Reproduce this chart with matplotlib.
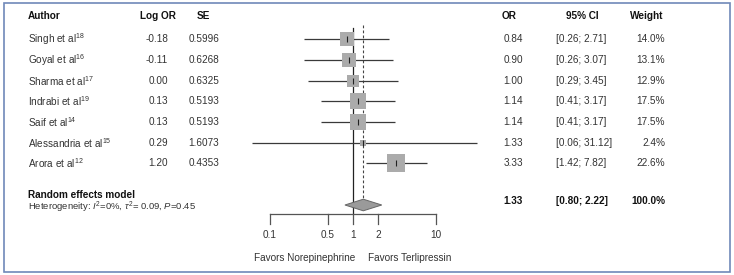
import numpy as np
import matplotlib
matplotlib.use("Agg")
import matplotlib.pyplot as plt
from matplotlib.transforms import blended_transform_factory
from matplotlib.patches import Rectangle, Polygon

plt.rcParams['font.family'] = ['Liberation Sans', 'DejaVu Sans']
plt.rcParams['mathtext.fontset'] = 'custom'
plt.rcParams['mathtext.rm'] = 'Liberation Sans'
plt.rcParams['mathtext.it'] = 'Liberation Sans:italic'
plt.rcParams['mathtext.bf'] = 'Liberation Sans:bold'

# ---------------- data ----------------
authors = ["Singh et al", "Goyal et al", "Sharma et al", "Indrabi et al",
           "Saif et al", "Alessandria et al", "Arora et al"]
refs = ["18", "16", "17", "19", "14", "15", "12"]
log_or = ["-0.18", "-0.11", "0.00", "0.13", "0.13", "0.29", "1.20"]
se = ["0.5996", "0.6268", "0.6325", "0.5193", "0.5193", "1.6073", "0.4353"]
odds = [0.84, 0.90, 1.00, 1.14, 1.14, 1.33, 3.33]
ci_lo = [0.26, 0.26, 0.29, 0.41, 0.41, 0.06, 1.42]
ci_hi = [2.71, 3.07, 3.45, 3.17, 3.17, 31.12, 7.82]
weights = [14.0, 13.1, 12.9, 17.5, 17.5, 2.4, 22.6]
pooled_or, pooled_lo, pooled_hi = 1.33, 0.80, 2.22
het_text = r"Heterogeneity: $\mathit{I}^{2}$=0%, $\tau^{2}$= 0.09, $\mathit{P}$=0.45"
ticks = [0.1, 0.5, 1, 2, 10]
tick_labels = ["0.1", "0.5", "1", "2", "10"]

# ---------------- layout ----------------
W, H = 734, 275
fig = plt.figure(figsize=(W / 100, H / 100), dpi=100)
ax = fig.add_axes([0, 0, 1, 1])
ax.set_xscale('log')
px_per_dec = 83.0
x1_px = 353.0
ax.set_xlim(10 ** ((0 - x1_px) / px_per_dec), 10 ** ((W - x1_px) / px_per_dec))
ax.set_ylim(H, 0)
ax.axis('off')

tr = blended_transform_factory(fig.transFigure, ax.transData)
def fx(px):
    return px / W

n = len(authors)
row_y = 39.3 + 20.67 * np.arange(n)
head_y = 16
sum_y = 200.7
axis_y = 214

body = '#333333'
dark = '#111111'
fs = 7.2

# headers
for px, lab in [(158, "Log OR"), (203, "SE"), (509, "OR"), (582, "95% CI"), (647, "Weight")]:
    ax.text(fx(px), head_y, lab, transform=tr, ha='center', va='center', fontsize=fs, fontweight='bold', color=dark)
ax.text(fx(28), head_y, "Author", transform=tr, ha='left', va='center', fontsize=fs, fontweight='bold', color=dark)

for i in range(n):
    y = row_y[i]
    ax.text(fx(28), y, authors[i] + "$^{" + refs[i] + "}$", transform=tr, ha='left', va='center', fontsize=fs, color=body)
    ax.text(fx(168), y, log_or[i], transform=tr, ha='right', va='center', fontsize=fs, color=body)
    ax.text(fx(219), y, se[i], transform=tr, ha='right', va='center', fontsize=fs, color=body)
    ax.text(fx(523), y, f"{odds[i]:.2f}", transform=tr, ha='right', va='center', fontsize=fs, color=body)
    ax.text(fx(556), y, f"[{ci_lo[i]:.2f}; {ci_hi[i]:.2f}]", transform=tr, ha='left', va='center', fontsize=fs, color=body)
    ax.text(fx(665), y, f"{weights[i]:.1f}%", transform=tr, ha='right', va='center', fontsize=fs, color=body)

    # CI line
    ax.plot([ci_lo[i], ci_hi[i]], [y, y], color='#3a3a3a', lw=0.9, solid_capstyle='butt', zorder=2)
    side_px = 3.6 * np.sqrt(weights[i])
    ax.plot([odds[i]], [y], marker='s', markersize=side_px * 0.72, color='#ababab',
            markeredgewidth=0, zorder=3)
    ax.plot([odds[i]], [y], marker='|', markersize=4.0, color='#222222',
            markeredgewidth=0.8, zorder=4)

# summary
ax.text(fx(28), 194.5, "Random effects model", transform=tr, ha='left', va='center', fontsize=fs, fontweight='bold', color=dark)
ax.text(fx(28), 207.5, het_text, transform=tr, ha='left', va='center', fontsize=fs - 0.4, color=body)
ax.text(fx(523), sum_y, f"{pooled_or:.2f}", transform=tr, ha='right', va='center', fontsize=fs, fontweight='bold', color=dark)
ax.text(fx(556), sum_y, f"[{pooled_lo:.2f}; {pooled_hi:.2f}]", transform=tr, ha='left', va='center', fontsize=fs, fontweight='bold', color=dark)
ax.text(fx(665), sum_y, "100.0%", transform=tr, ha='right', va='center', fontsize=fs, fontweight='bold', color=dark)

dy = 5.8
diamond = Polygon([[pooled_lo, 205], [pooled_or, 205 - dy], [pooled_hi, 205], [pooled_or, 205 + dy]],
                  closed=True, facecolor='#9a9a9a', edgecolor='#666666', lw=0.7, zorder=3)
ax.add_patch(diamond)

# reference lines
ax.plot([1, 1], [28, axis_y], color='#222222', lw=0.9, zorder=1)
ax.plot([pooled_or, pooled_or], [25, 205 - dy], color='#444444', lw=0.8, ls=(0, (2.5, 2.0)), zorder=1)

# bottom axis
ax.plot([ticks[0], ticks[-1]], [axis_y, axis_y], color='#555555', lw=0.9)
for t, lab in zip(ticks, tick_labels):
    ax.plot([t, t], [axis_y, axis_y + 10], color='#555555', lw=0.9)
    ax.text(t, 235, lab, ha='center', va='center', fontsize=fs, color=body)
ax.text(fx(355), 258, "Favors Norepinephrine", transform=tr, ha='right', va='center', fontsize=fs, color=body)
ax.text(fx(368), 258, "Favors Terlipressin", transform=tr, ha='left', va='center', fontsize=fs, color=body)

# border
fig.patches.append(Rectangle((4 / W, 3 / H), (730 - 4) / W, (272 - 3) / H, transform=fig.transFigure,
                             fill=False, edgecolor='#7089b9', lw=1.2))

fig.savefig("out.png", dpi=100)
